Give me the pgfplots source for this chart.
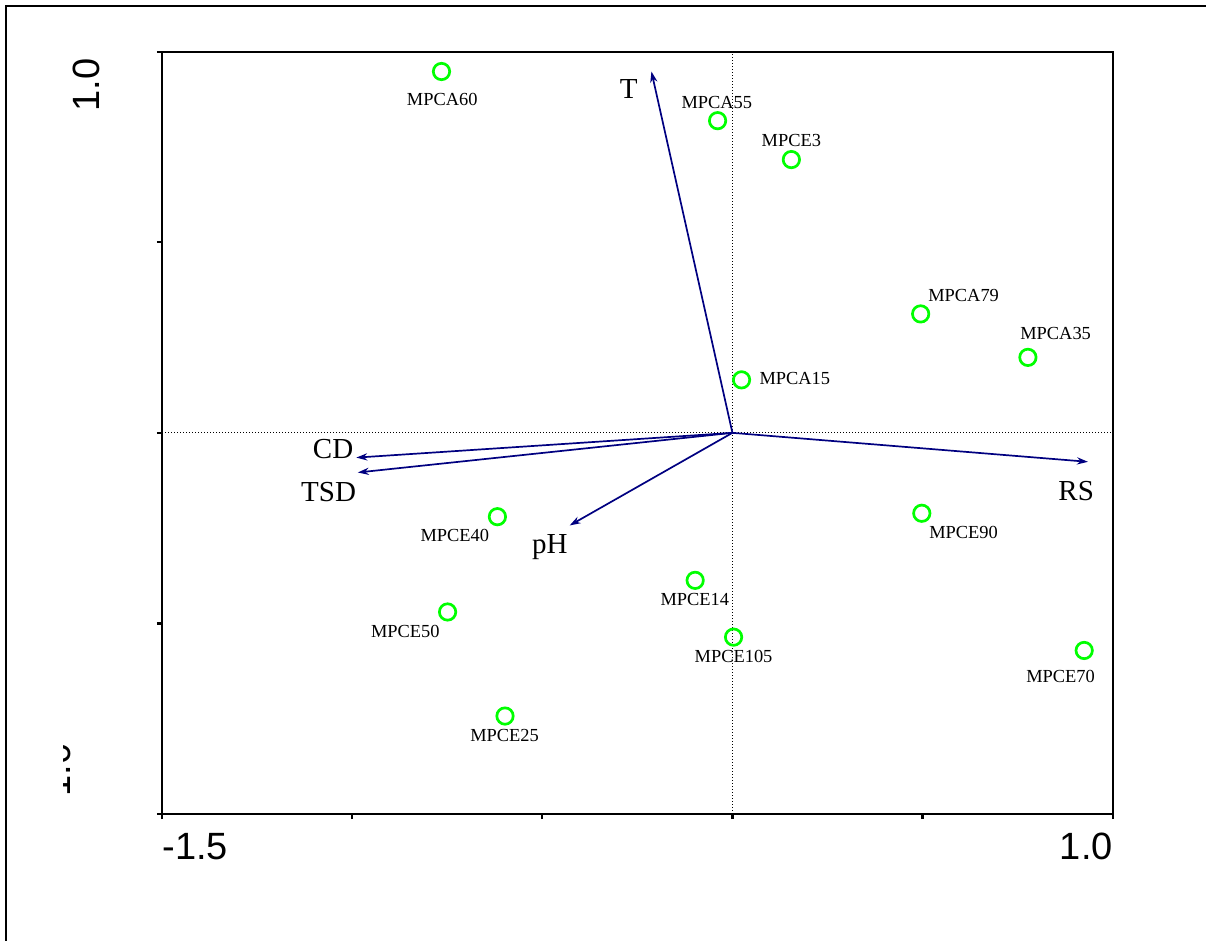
\documentclass[border=0pt]{standalone}
\usepackage{fontspec}
\setmainfont{Liberation Serif}
\newfontfamily\arialfont{Liberation Sans}
\usepackage{pgfplots}
\pgfplotsset{compat=1.18}
\usetikzlibrary{arrows.meta}
\definecolor{sitegreen}{RGB}{0,255,0}
\definecolor{vecblue}{RGB}{0,0,128}

% sample label and variable label
\newcommand{\site}[3]{\node[font=\fontsize{9.2}{10}\selectfont, inner sep=0pt] at (axis cs:#1,#2) {#3};}
\newcommand{\envlab}[3]{\node[font=\fontsize{14.5}{16}\selectfont, inner sep=0pt] at (axis cs:#1,#2) {#3};}

\begin{document}
\begin{tikzpicture}
\path[use as bounding box] (0,0) rectangle (603pt,470.5pt);

\begin{axis}[
  at={(81pt,63.5pt)}, anchor=south west,
  scale only axis, width=475.35pt, height=381.15pt,
  xmin=-1.5, xmax=1, ymin=-1, ymax=1,
  xtick={-1.5,-1,-0.5,0,0.5,1}, ytick={-1,-0.5,0,0.5,1},
  xticklabel=\empty, yticklabel=\empty,
  xtick pos=left, ytick pos=left,
  tick align=outside, major tick length=2.6pt,
  every tick/.style={black, line width=1.1pt},
  axis line style={line width=1.15pt},
  clip=false,
]
% zero lines
\addplot[black, line width=0.55pt, dash pattern=on 0.5pt off 1pt] coordinates {(-1.5,0) (1,0)};
\addplot[black, line width=0.55pt, dash pattern=on 0.5pt off 1pt] coordinates {(0,-1) (0,1)};

% environmental vectors
\addplot[vecblue, line width=0.85pt, -{Stealth[length=5.5pt,width=3.6pt]}] coordinates {(0,0) (-0.213,0.948)};
\addplot[vecblue, line width=0.85pt, -{Stealth[length=5.5pt,width=3.6pt]}] coordinates {(0,0) (-0.989,-0.065)};
\addplot[vecblue, line width=0.85pt, -{Stealth[length=5.5pt,width=3.6pt]}] coordinates {(0,0) (-0.985,-0.104)};
\addplot[vecblue, line width=0.85pt, -{Stealth[length=5.5pt,width=3.6pt]}] coordinates {(0,0) (-0.428,-0.243)};
\addplot[vecblue, line width=0.85pt, -{Stealth[length=5.5pt,width=3.6pt]}] coordinates {(0,0) (0.935,-0.076)};

% sites
\addplot[only marks, mark=o, mark size=4.1pt, sitegreen, mark options={line width=1.35pt}] coordinates {
  (-0.765,0.948) (-0.039,0.819) (0.155,0.717) (0.495,0.312)
  (0.777,0.198) (0.024,0.139) (0.498,-0.211) (-0.618,-0.220)
  (-0.098,-0.387) (-0.749,-0.470) (0.003,-0.536) (0.925,-0.571)
  (-0.598,-0.743)
};

\site{-0.763}{0.874}{MPCA60}
\site{-0.041}{0.867}{MPCA55}
\site{0.155}{0.766}{MPCE3}
\site{0.608}{0.361}{MPCA79}
\site{0.850}{0.261}{MPCA35}
\site{0.164}{0.143}{MPCA15}
\site{0.608}{-0.261}{MPCE90}
\site{-0.730}{-0.269}{MPCE40}
\site{-0.099}{-0.438}{MPCE14}
\site{-0.860}{-0.521}{MPCE50}
\site{0.003}{-0.586}{MPCE105}
\site{0.863}{-0.639}{MPCE70}
\site{-0.599}{-0.795}{MPCE25}

\envlab{-0.273}{0.902}{T}
\envlab{-1.050}{-0.043}{CD}
\envlab{-1.062}{-0.155}{TSD}
\envlab{0.904}{-0.152}{RS}
\node[font=\fontsize{14.5}{16}\selectfont, inner sep=0pt, anchor=base] at (axis cs:-0.480,-0.316) {pH};
\end{axis}

% tick labels
\node[font=\arialfont\fontsize{19}{21}\selectfont, inner sep=0pt, anchor=north west] at (81pt,54.2pt) {-1.5};
\node[font=\arialfont\fontsize{19}{21}\selectfont, inner sep=0pt, anchor=north east] at (556.6pt,54.2pt) {1.0};
\node[font=\arialfont\fontsize{19}{21}\selectfont, inner sep=0pt, anchor=south east, rotate=90] at (50pt,441.3pt) {1.0};
\begin{scope}
\clip (31.8pt,60pt) rectangle (45pt,140pt);
\node[font=\arialfont\fontsize{19}{21}\selectfont, inner sep=0pt, anchor=south east, rotate=90] at (35.5pt,98.8pt) {-1.0};
\end{scope}

% outer frame
\draw[line width=1.15pt] (3pt,0pt) -- (3pt,467.5pt) -- (603pt,467.5pt);
\end{tikzpicture}
\end{document}
